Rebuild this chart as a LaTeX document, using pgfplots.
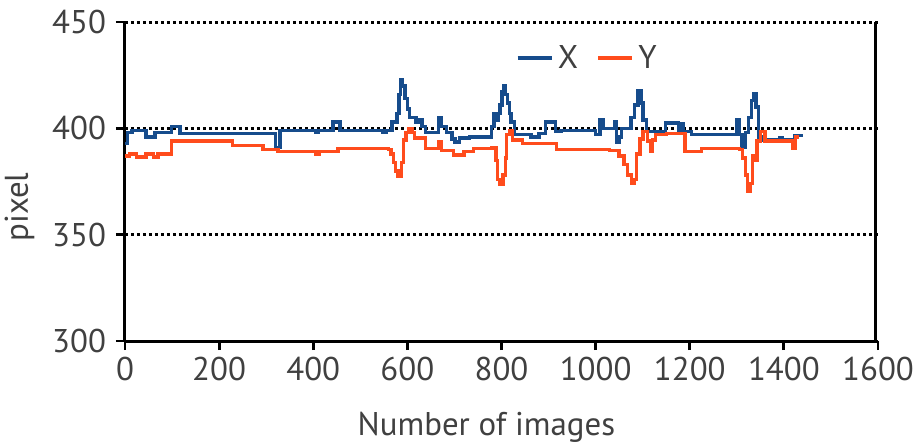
\documentclass[border=0pt]{standalone}
\usepackage{fontspec}
\setmainfont{PT Sans}
\usepackage{pgfplots}
\pgfplotsset{compat=1.18}
\usetikzlibrary{calc}
\definecolor{xblue}{RGB}{22,76,140}
\definecolor{yred}{RGB}{255,76,28}
\definecolor{txt}{RGB}{64,64,64}

\begin{document}
\begin{tikzpicture}
\begin{axis}[
    name=main,
    scale only axis,
    width=376.5bp, height=159.5bp,
    xmin=0, xmax=1600, ymin=300, ymax=450,
    xtick={0,200,...,1600},
    ytick={300,350,400,450},
    axis x line*=bottom,
    axis y line*=left,
    tick align=outside,
    major tick length=4.5bp,
    tick style={black, line width=1.4bp},
    axis line style={black, line width=1.5bp},
    ymajorgrids,
    grid style={black, line width=1.5bp, dash pattern=on 1.4bp off 1.6bp},
    extra description/.code={
        \draw[draw=black, line width=1.6bp] (0.997,0) -- (0.997,1);
    },
    /pgf/number format/assume math mode=true,
    /pgf/number format/1000 sep={},
    tick label style={font=\fontsize{16.5}{19}\selectfont, text=txt},
    yticklabel style={xshift=-1.5bp},
    label style={font=\fontsize{16.5}{19}\selectfont, text=txt},
    xlabel={Number of images},
    xlabel style={at={(ticklabel cs:0.48)}, yshift=-9bp},
    ylabel={pixel},
    ylabel style={at={(ticklabel cs:0.42)}, yshift=2bp},
    legend style={draw=none, fill=none, at={(rel axis cs:0.615,0.887)},
        anchor=center, legend columns=2,
        font=\fontsize{16.5}{19}\selectfont, text=txt,
        /tikz/every even column/.append style={column sep=7bp}},
    legend image code/.code={\draw[#1, line width=2.2bp] (0,0) -- (17bp,0);},
]
% X coordinate of the tracked point
\addplot[xblue, line width=1.7bp, const plot] coordinates {
(0,393) (5,398) (15,399) (45,396) (64,398) (99,401) (117,397.5)
(320,391) (329,399) (405,398) (410,399) (442,403) (457,399)
(548,398) (555,399) (567,403) (578,407) (582,416) (586,423)
(590,420) (595,414) (600,409) (605,405) (618,403) (626,404)
(631,401) (638,398) (666,405) (672,401) (683,398) (695,395)
(701,393.5) (711,395.5) (732,396) (779,401) (784,407) (788,404)
(793,407) (797,411) (801,417) (805,420) (809,416) (813,412)
(817,407) (820,403) (827,397) (863,396) (880,397.5) (894,403)
(915,398.5) (926,399) (1000,397) (1009,404) (1017,400) (1041,403)
(1044,393.5) (1051,396) (1055,400) (1075,405) (1083,411)
(1090,417.5) (1096,412) (1101,404) (1108,398.5) (1148,402.5)
(1176,398.5) (1183,402) (1187,398.5) (1204,397) (1300,404)
(1306,397) (1311,391) (1318,398) (1325,405) (1331,413)
(1336,416.5) (1341,410) (1346,396) (1353,394.5) (1392,395.5)
(1397,394.5) (1424,396.5) (1440,396.5)
};
% Y coordinate of the tracked point
\addplot[yred, line width=1.7bp, const plot] coordinates {
(0,387) (10,388) (25,386.5) (45,388) (60,386.5) (70,388) (99,394)
(229,392) (293,390) (325,389) (405,388) (412,389) (453,390.5)
(560,390) (565,388) (570,384) (575,380) (580,377.5) (588,384)
(592,394.5) (597,398) (602,400) (610,398) (615,395.5) (638,390.5)
(666,393.5) (673,389.5) (698,387.5) (720,389) (740,390.5)
(780,391) (788,385) (792,376) (797,373.5) (803,378) (808,386)
(811,397) (817,399) (824,394.5) (845,393) (917,390) (1030,389.5)
(1050,387) (1060,383) (1068,378) (1076,374) (1082,376) (1087,388)
(1094,395) (1101,398.5) (1110,394) (1116,389) (1121,394.5)
(1127,397) (1150,397.5) (1190,389) (1225,390.5) (1306,390)
(1312,386) (1318,378) (1323,370.5) (1328,374) (1333,387)
(1338,385) (1343,394) (1350,398.5) (1360,394) (1418,390.5)
(1425,396) (1432,396)
};
\legend{X,Y}
\end{axis}
\pgfresetboundingbox
\path ($(main.south west)+(-62.5bp,-51bp)$) rectangle
      ($(main.south west)+(395.5bp,170.5bp)$);
\end{tikzpicture}
\end{document}
